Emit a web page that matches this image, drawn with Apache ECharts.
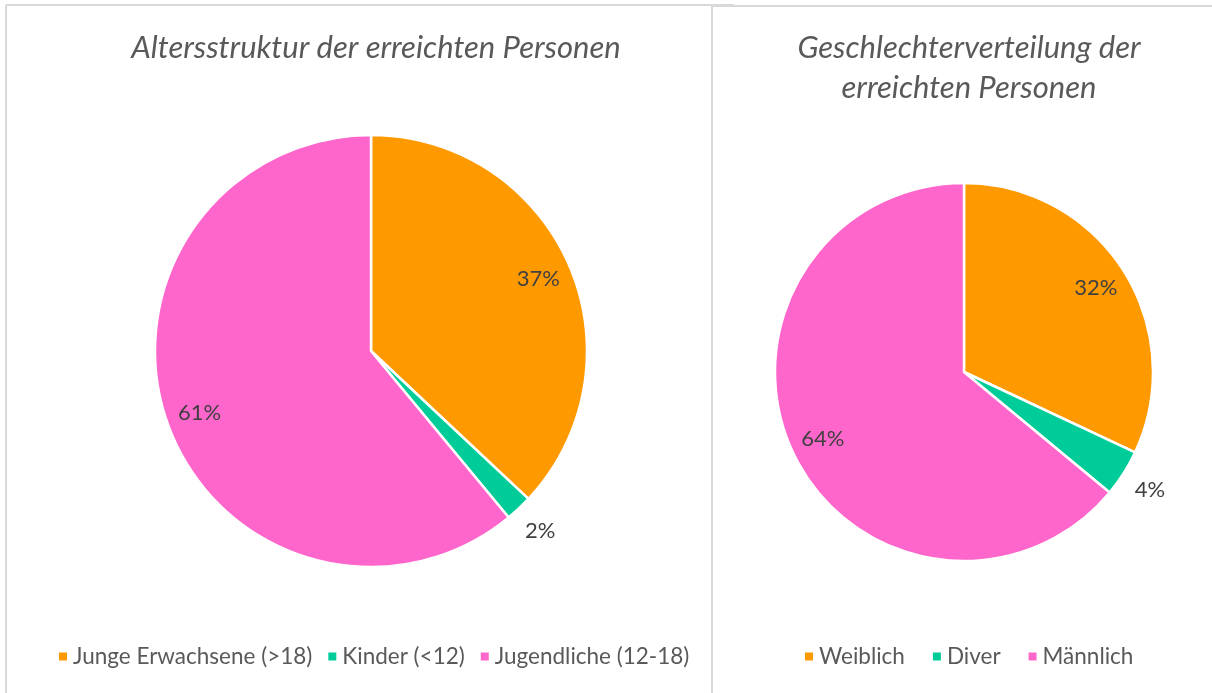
<!DOCTYPE html>
<html>
<head>
<meta charset="utf-8">
<script src="https://cdn.jsdelivr.net/npm/echarts@6/dist/echarts.min.js"></script>
<style>
  html, body { margin: 0; padding: 0; background: #fff; }
  #chart { width: 1212px; height: 693px; }
</style>
</head>
<body>
<div id="chart"></div>
<script>
// Altersstruktur
const ageNames = ["Junge Erwachsene (>18)", "Kinder (<12)", "Jugendliche (12-18)"];
const ageValues = [37, 2, 61];
// Geschlechterverteilung
const genderNames = ["Weiblich", "Diver", "Männlich"];
const genderValues = [32, 4, 64];

const colors = ["#FF9900", "#00CC99", "#FF66CC"];
const FONT = "Lato";

const chart = echarts.init(document.getElementById("chart"));

function toData(names, values) {
  return names.map((n, i) => ({ name: n, value: values[i], itemStyle: { color: colors[i] } }));
}

// sichtbarer Kreis
function pieSeries(names, values, center, r) {
  return {
    type: "pie",
    center: center,
    radius: r,
    startAngle: 90,
    clockwise: true,
    silent: true,
    label: { show: false },
    labelLine: { show: false },
    itemStyle: { borderColor: "#fff", borderWidth: 2.5 },
    emphasis: { disabled: true },
    data: toData(names, values),
  };
}

// unsichtbarer Ring nur für die Beschriftung
function labelSeries(names, values, center, radius, big) {
  return {
    type: "pie",
    center: center,
    radius: radius,
    startAngle: 90,
    clockwise: true,
    silent: true,
    legendHoverLink: false,
    itemStyle: { color: "rgba(0,0,0,0)" },
    emphasis: { disabled: true },
    labelLine: { show: false },
    label: {
      show: true,
      position: "inside",
      color: "#404040",
      fontFamily: FONT,
      fontSize: 22,
      formatter: function (p) {
        return (big ? p.value >= 10 : p.value < 10) ? p.value + "%" : "";
      },
    },
    data: names.map((n, i) => ({ name: n, value: values[i] })),
  };
}

function legendData(names) {
  return names.map((n, i) => ({ name: n, itemStyle: { color: colors[i] } }));
}

const L = { c: [371, 351], r: 216 };
const R = { c: [964, 372], r: 189 };

const titleStyle = { fontFamily: FONT, fontStyle: "italic", fontWeight: "normal", fontSize: 31, lineHeight: 40, color: "#595959" };
const legendText = { fontFamily: FONT, fontSize: 22.5, color: "#595959" };

const option = {
  animation: false,
  title: [
    {
      text: "Altersstruktur der erreichten Personen",
      left: 371,
      top: 23,
      textAlign: "center",
      textStyle: titleStyle,
    },
    {
      text: "Geschlechterverteilung der\nerreichten Personen",
      left: 964,
      top: 23,
      textAlign: "center",
      textStyle: titleStyle,
    },
  ],
  legend: [
    {
      data: legendData(ageNames),
      left: 52,
      top: 640,
      icon: "rect",
      itemWidth: 10,
      itemHeight: 10,
      itemGap: 14,
      selectedMode: false,
      textStyle: legendText,
    },
    {
      data: legendData(genderNames),
      left: 798,
      top: 640,
      icon: "rect",
      itemWidth: 10,
      itemHeight: 10,
      itemGap: 26,
      selectedMode: false,
      textStyle: legendText,
    },
  ],
  graphic: [
    { type: "line", shape: { x1: 6, y1: 5, x2: 734, y2: 5 }, style: { stroke: "#d9d9d9", lineWidth: 2 } },
    { type: "line", shape: { x1: 6, y1: 5, x2: 6, y2: 693 }, style: { stroke: "#d9d9d9", lineWidth: 2 } },
    { type: "line", shape: { x1: 712, y1: 6, x2: 1212, y2: 6 }, style: { stroke: "#d9d9d9", lineWidth: 2 } },
    { type: "line", shape: { x1: 712, y1: 6, x2: 712, y2: 693 }, style: { stroke: "#d9d9d9", lineWidth: 2 } },
  ],
  series: [
    pieSeries(ageNames, ageValues, L.c, L.r),
    labelSeries(ageNames, ageValues, L.c, [L.r * 0.66, L.r], true),
    labelSeries(ageNames, ageValues, L.c, [L.r * 0.95, L.r * 1.31], false),
    pieSeries(genderNames, genderValues, R.c, R.r),
    labelSeries(genderNames, genderValues, R.c, [R.r * 0.62, R.r], true),
    labelSeries(genderNames, genderValues, R.c, [R.r * 0.97, R.r * 1.33], false),
  ],
};

chart.setOption(option);
</script>
</body>
</html>
